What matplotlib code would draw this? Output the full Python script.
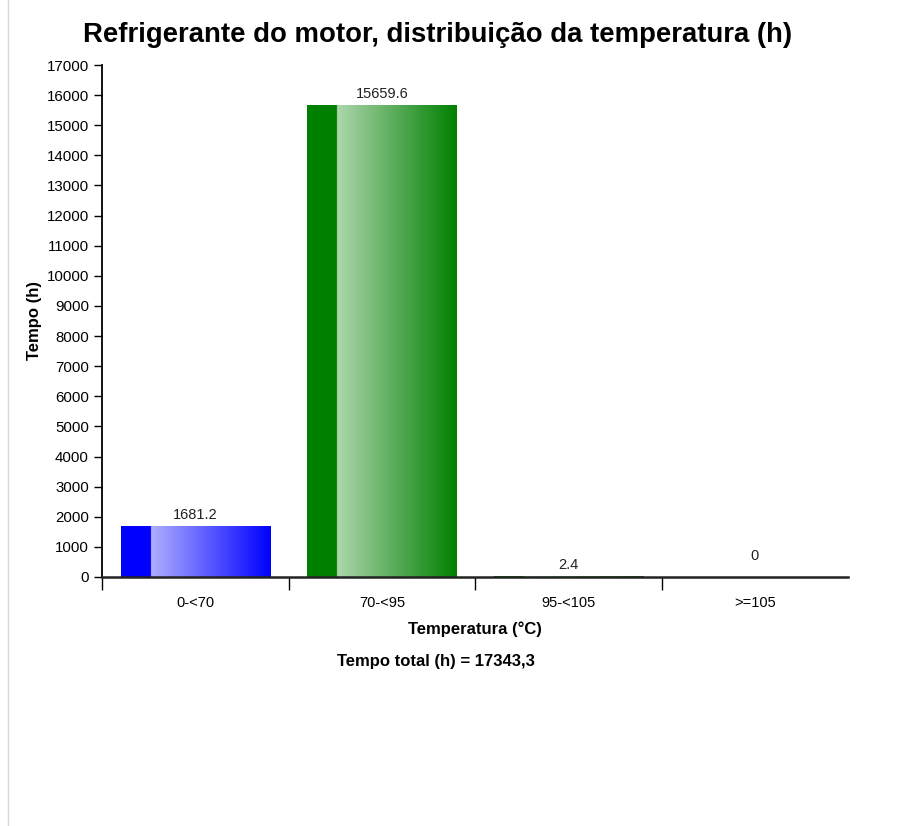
import numpy as np
import matplotlib.pyplot as plt
from matplotlib.colors import to_rgb

plt.rcParams["font.family"] = ["Liberation Sans", "DejaVu Sans"]

categories = ["0-<70", "70-<95", "95-<105", ">=105"]
hours = [1681.2, 15659.6, 2.4, 0]
labels = ["1681.2", "15659.6", "2.4", "0"]
bar_colors = ["#0000ff", "#008000", "#008000", "#008000"]
total_text = "Tempo total (h) = 17343,3"


def gradient_bar(ax, x0, width, height, color, solid_frac=0.2, light=0.68):
    """Bar with a solid left strip, then a light-to-dark horizontal gradient."""
    if height <= 0:
        return
    c = np.array(to_rgb(color))
    n = 200
    ns = int(n * solid_frac)
    img = np.zeros((1, n, 3))
    img[0, :ns] = c
    g = np.linspace(0, 1, n - ns)[:, None]
    lite = c + (1 - c) * light
    img[0, ns:] = lite * (1 - g) + c * g
    ax.imshow(img, extent=(x0, x0 + width, 0, height), aspect="auto",
              interpolation="bilinear", zorder=2)


fig = plt.figure(figsize=(9.09, 8.26), dpi=100)
ax = fig.add_axes([0.1122, 0.3015, 0.821, 0.6198])

width = 0.8
for i, (h, col) in enumerate(zip(hours, bar_colors)):
    gradient_bar(ax, i + 0.5 - width / 2, width, h, col)
    off = 15 if h == 0 else 8.5
    ax.annotate(labels[i], (i + 0.5, h), xytext=(0, off), textcoords="offset points",
                ha="center", va="center", fontsize=10.5, color="#222222")

ax.set_xlim(0, 4)
ax.set_ylim(0, 17000)
ax.set_yticks(np.arange(0, 17001, 1000))
ax.tick_params(axis="y", labelsize=10.8, length=6, width=1)

ax.set_xticks(range(len(categories)))
ax.set_xticklabels([])
ax.set_xticks(np.arange(len(categories)) + 0.5, minor=True)
ax.set_xticklabels(categories, minor=True, fontsize=10.5)
ax.tick_params(axis="x", which="major", length=9, width=1)
ax.tick_params(axis="x", which="minor", length=0, pad=14)

for s in ["top", "right"]:
    ax.spines[s].set_visible(False)
ax.spines["left"].set_linewidth(1.3)
ax.spines["bottom"].set_linewidth(1.8)
ax.spines["bottom"].set_color("#222222")

ax.set_xlabel("Temperatura (°C)", fontsize=12, fontweight="bold", labelpad=8)
ax.set_ylabel("Tempo (h)", fontsize=12, fontweight="bold", labelpad=3)
fig.text(0.481, 0.958, "Refrigerante do motor, distribuição da temperatura (h)",
         ha="center", va="center", fontsize=19.8, fontweight="bold")
fig.text(0.48, 0.199, total_text, ha="center", va="center",
         fontsize=12, fontweight="bold")

# thin page border on the left
fig.add_artist(plt.Line2D([0.009, 0.009], [0, 1], transform=fig.transFigure,
                          color="#d8d8d8", lw=1))

fig.savefig("out.png", dpi=100)
